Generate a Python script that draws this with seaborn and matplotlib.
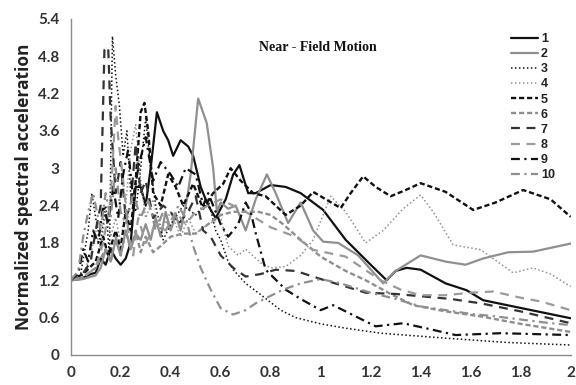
import matplotlib
matplotlib.use("Agg")
import matplotlib.pyplot as plt
import seaborn as sns

# Period (s) and normalized spectral acceleration for each near-field record
period_1 = [0, 0.04, 0.08, 0.1, 0.12, 0.14, 0.16, 0.18, 0.2, 0.22, 0.24, 0.26, 0.28, 0.3, 0.32, 0.345, 0.37, 0.39, 0.41, 0.44, 0.47, 0.49, 0.52, 0.55, 0.58, 0.62, 0.65, 0.675, 0.71, 0.74, 0.8, 0.86, 0.92, 0.96, 1.01, 1.1, 1.2, 1.264, 1.3, 1.344, 1.4, 1.5, 1.584, 1.65, 1.77, 2.0]
sa_1 = [1.2, 1.22, 1.3, 1.32, 1.55, 1.45, 1.7, 1.55, 1.45, 1.55, 1.8, 2.7, 2.7, 2.4, 3.0, 3.9, 3.6, 3.45, 3.2, 3.45, 3.35, 3.2, 2.7, 2.4, 2.2, 2.5, 2.9, 3.05, 2.6, 2.6, 2.73, 2.7, 2.6, 2.48, 2.33, 1.85, 1.45, 1.2, 1.35, 1.40, 1.37, 1.15, 1.04, 0.88, 0.78, 0.59]

period_2 = [0, 0.05, 0.1, 0.12, 0.14, 0.16, 0.18, 0.2, 0.22, 0.24, 0.26, 0.28, 0.3, 0.32, 0.34, 0.36, 0.38, 0.4, 0.42, 0.44, 0.465, 0.48, 0.51, 0.544, 0.57, 0.585, 0.6, 0.63, 0.66, 0.7, 0.74, 0.785, 0.82, 0.87, 0.92, 0.97, 1.01, 1.07, 1.15, 1.25, 1.3, 1.4, 1.5, 1.58, 1.65, 1.75, 1.85, 2.0]
sa_2 = [1.2, 1.22, 1.28, 1.4, 1.7, 1.5, 1.85, 1.6, 2.0, 1.7, 1.95, 1.85, 2.1, 1.85, 2.2, 1.9, 2.3, 2.0, 2.25, 2.0, 2.5, 2.9, 4.12, 3.73, 3.0, 2.3, 2.45, 2.35, 2.4, 2.0, 2.5, 2.9, 2.6, 2.12, 2.45, 2.0, 1.82, 1.8, 1.6, 1.15, 1.35, 1.6, 1.5, 1.45, 1.55, 1.65, 1.66, 1.79]

period_3 = [0, 0.04, 0.07, 0.085, 0.1, 0.12, 0.14, 0.155, 0.167, 0.18, 0.195, 0.21, 0.225, 0.24, 0.26, 0.28, 0.3, 0.32, 0.34, 0.37, 0.4, 0.45, 0.5, 0.55, 0.58, 0.6, 0.63, 0.65, 0.7, 0.75, 0.84, 0.9, 1.0, 1.1, 1.24, 1.5, 1.75, 2.0]
sa_3 = [1.2, 1.3, 2.0, 2.6, 2.2, 1.8, 2.4, 1.6, 5.12, 4.5, 4.0, 3.2, 3.6, 2.6, 2.3, 3.0, 3.8, 3.0, 2.4, 1.85, 2.1, 2.4, 2.25, 2.5, 2.0, 1.85, 1.5, 1.37, 1.15, 1.0, 0.72, 0.6, 0.5, 0.43, 0.35, 0.27, 0.2, 0.16]

period_4 = [0, 0.05, 0.08, 0.1, 0.12, 0.14, 0.16, 0.18, 0.2, 0.22, 0.24, 0.26, 0.28, 0.3, 0.33, 0.36, 0.4, 0.44, 0.47, 0.5, 0.55, 0.6, 0.63, 0.67, 0.7, 0.76, 0.8, 0.86, 0.92, 0.97, 1.04, 1.1, 1.18, 1.25, 1.33, 1.4, 1.45, 1.53, 1.64, 1.77, 1.85, 1.92, 2.0]
sa_4 = [1.2, 1.3, 1.6, 2.0, 1.7, 2.3, 1.9, 2.2, 1.8, 2.4, 3.3, 3.7, 2.8, 2.2, 2.5, 2.0, 2.3, 1.9, 2.2, 1.95, 2.1, 2.2, 1.75, 1.6, 1.7, 1.48, 1.4, 1.42, 1.6, 1.85, 2.55, 2.3, 1.8, 2.0, 2.35, 2.57, 2.3, 1.77, 1.69, 1.32, 1.40, 1.3, 1.1]

period_5 = [0, 0.05, 0.1, 0.13, 0.15, 0.18, 0.2, 0.22, 0.24, 0.26, 0.28, 0.295, 0.31, 0.33, 0.36, 0.39, 0.42, 0.45, 0.49, 0.53, 0.57, 0.61, 0.64, 0.68, 0.73, 0.78, 0.86, 0.92, 0.97, 1.0, 1.08, 1.12, 1.17, 1.22, 1.28, 1.34, 1.4, 1.5, 1.61, 1.7, 1.81, 1.92, 2.0]
sa_5 = [1.2, 1.3, 1.5, 1.9, 1.6, 2.0, 1.7, 2.3, 2.0, 2.8, 3.9, 4.05, 3.6, 2.6, 2.4, 2.9, 2.7, 2.4, 2.75, 2.35, 2.6, 2.75, 3.0, 2.8, 2.6, 2.55, 2.25, 2.4, 2.62, 2.55, 2.36, 2.6, 2.87, 2.7, 2.55, 2.65, 2.76, 2.62, 2.33, 2.45, 2.65, 2.5, 2.22]

period_6 = [0, 0.05, 0.1, 0.14, 0.16, 0.18, 0.2, 0.22, 0.24, 0.26, 0.28, 0.3, 0.33, 0.36, 0.4, 0.45, 0.5, 0.55, 0.6, 0.65, 0.7, 0.75, 0.8, 0.85, 0.92, 1.0, 1.1, 1.18, 1.28, 1.37, 1.5, 1.64, 1.8, 2.0]
sa_6 = [1.2, 1.25, 1.4, 1.7, 1.5, 1.9, 1.6, 2.0, 1.7, 2.0, 1.65, 1.9, 1.65, 1.75, 1.9, 1.95, 1.95, 2.1, 2.25, 2.3, 2.3, 2.3, 2.25, 2.1, 1.85, 1.58, 1.35, 1.2, 0.98, 0.8, 0.7, 0.62, 0.5, 0.37]

period_7 = [0, 0.04, 0.08, 0.1, 0.12, 0.135, 0.15, 0.16, 0.18, 0.2, 0.22, 0.24, 0.26, 0.28, 0.3, 0.33, 0.37, 0.4, 0.43, 0.47, 0.5, 0.53, 0.56, 0.6, 0.65, 0.7, 0.76, 0.82, 0.9, 1.0, 1.1, 1.18, 1.3, 1.41, 1.52, 1.64, 1.8, 2.0]
sa_7 = [1.2, 1.25, 1.5, 2.0, 2.4, 4.9, 4.95, 3.8, 2.6, 3.1, 2.2, 2.4, 3.4, 2.6, 2.8, 2.2, 2.4, 2.3, 2.1, 2.3, 2.55, 2.0, 1.9, 1.6, 1.4, 1.26, 1.3, 1.37, 1.35, 1.22, 1.1, 1.0, 0.98, 0.94, 0.9, 0.83, 0.7, 0.51]

period_8 = [0, 0.05, 0.1, 0.13, 0.16, 0.18, 0.19, 0.21, 0.23, 0.25, 0.27, 0.3, 0.34, 0.38, 0.42, 0.46, 0.5, 0.55, 0.6, 0.65, 0.7, 0.8, 0.9, 0.97, 1.1, 1.24, 1.32, 1.4, 1.5, 1.6, 1.69, 1.8, 1.88, 2.0]
sa_8 = [1.2, 1.25, 1.4, 1.8, 2.5, 4.0, 3.5, 2.8, 2.0, 1.6, 2.2, 1.8, 2.1, 2.0, 2.3, 2.1, 2.3, 2.4, 2.5, 2.4, 2.3, 2.05, 1.9, 1.69, 1.58, 1.2, 1.05, 0.96, 0.96, 1.0, 1.02, 0.92, 0.86, 0.72]

period_9 = [0, 0.03, 0.05, 0.07, 0.09, 0.11, 0.13, 0.15, 0.17, 0.19, 0.21, 0.23, 0.25, 0.27, 0.3, 0.33, 0.36, 0.4, 0.43, 0.46, 0.5, 0.53, 0.55, 0.6, 0.63, 0.67, 0.7, 0.72, 0.74, 0.78, 0.86, 0.92, 1.0, 1.05, 1.14, 1.22, 1.33, 1.42, 1.54, 1.72, 2.0]
sa_9 = [1.2, 1.3, 1.7, 1.5, 2.0, 1.8, 2.4, 2.1, 2.7, 2.2, 2.9, 3.3, 2.5, 3.0, 3.5, 2.8, 3.1, 2.9, 2.7, 3.0, 2.9, 2.4, 2.6, 2.1, 1.9, 2.1, 2.45, 2.3, 1.96, 1.37, 1.05, 0.9, 0.72, 0.8, 0.62, 0.46, 0.51, 0.43, 0.32, 0.35, 0.32]

period_10 = [0, 0.03, 0.05, 0.07, 0.09, 0.1, 0.12, 0.14, 0.16, 0.18, 0.2, 0.22, 0.25, 0.28, 0.31, 0.34, 0.37, 0.4, 0.43, 0.46, 0.49, 0.52, 0.56, 0.6, 0.65, 0.7, 0.74, 0.8, 0.85, 0.92, 1.0, 1.08, 1.2, 1.3, 1.4, 1.5, 1.6, 1.7, 1.8, 1.9, 2.0]
sa_10 = [1.2, 1.35, 1.9, 2.3, 2.6, 2.4, 2.0, 2.6, 2.2, 3.0, 2.3, 2.1, 2.6, 2.2, 2.5, 2.0, 2.3, 2.0, 2.4, 2.2, 1.75, 1.4, 1.05, 0.75, 0.65, 0.72, 0.83, 0.95, 1.05, 1.15, 1.22, 1.15, 1.0, 0.9, 0.78, 0.72, 0.66, 0.62, 0.57, 0.52, 0.48]

record_labels = ["1", "2", "3", "4", "5", "6", "7", "8", "9", "10"]
periods = [period_1, period_2, period_3, period_4, period_5,
           period_6, period_7, period_8, period_9, period_10]
spectra = [sa_1, sa_2, sa_3, sa_4, sa_5, sa_6, sa_7, sa_8, sa_9, sa_10]

BLACK = "#111111"
GREY = "#8f8f8f"
styles = [
    dict(color=BLACK, lw=1.6, linestyle="-"),
    dict(color=GREY, lw=1.6, linestyle="-"),
    dict(color=BLACK, lw=1.1, linestyle=(0, (1, 1.6))),
    dict(color=GREY, lw=1.1, linestyle=(0, (1, 1.6))),
    dict(color=BLACK, lw=1.7, linestyle=(0, (2.2, 1.2))),
    dict(color=GREY, lw=1.7, linestyle=(0, (2.2, 1.2))),
    dict(color="#333333", lw=1.6, linestyle=(0, (4, 3))),
    dict(color="#9a9a9a", lw=1.6, linestyle=(0, (4, 3))),
    dict(color=BLACK, lw=1.6, linestyle=(0, (4, 2, 1, 2))),
    dict(color=GREY, lw=1.6, linestyle=(0, (4, 2, 1, 2))),
]

sns.set_style("white")
fig = plt.figure(figsize=(5.76, 3.85), dpi=100)
ax = fig.add_axes([0.1227, 0.078, 0.868, 0.873])

for lab, xs, ys, st in zip(record_labels, periods, spectra, styles):
    sns.lineplot(x=xs, y=ys, ax=ax, label=lab, estimator=None, sort=False, **st)

ax.set_xlim(0, 2)
ax.set_ylim(0, 5.4)
ax.set_xticks([0, 0.2, 0.4, 0.6, 0.8, 1, 1.2, 1.4, 1.6, 1.8, 2])
ax.set_xticklabels(["0", "0.2", "0.4", "0.6", "0.8", "1", "1.2", "1.4", "1.6", "1.8", "2"])
ax.set_yticks([0, 0.6, 1.2, 1.8, 2.4, 3, 3.6, 4.2, 4.8, 5.4])
ax.set_yticklabels(["0", "0.6", "1.2", "1.8", "2.4", "3", "3.6", "4.2", "4.8", "5.4"])

for side in ["top", "right"]:
    ax.spines[side].set_visible(False)
for side in ["left", "bottom"]:
    ax.spines[side].set_color("#8a8a8a")
    ax.spines[side].set_linewidth(1.0)
ax.tick_params(axis="both", direction="inout", length=8, width=1.0,
               color="#8a8a8a", labelcolor="#333333", labelsize=11, pad=4)
for t in ax.get_xticklabels() + ax.get_yticklabels():
    t.set_fontfamily("Lato")
    t.set_fontweight("bold")

ax.set_ylabel("Normalized spectral acceleration", fontsize=12.5,
              fontweight="bold", fontfamily="Open Sans", color="#222222", labelpad=4)
ax.set_xlabel("")

ax.text(0.495, 0.915, "Near - Field Motion", transform=ax.transAxes,
        ha="center", va="center", fontsize=10, fontweight="bold",
        fontfamily="Liberation Serif", color="#111111")

leg = ax.legend(loc="upper left", bbox_to_anchor=(0.888, 0.914),
                bbox_transform=fig.transFigure, frameon=False,
                handlelength=2.15, handletextpad=0.2, labelspacing=0.25,
                borderaxespad=0, borderpad=0,
                prop=dict(family="Liberation Sans", weight="bold", size=9))
for t in leg.get_texts():
    t.set_color("#222222")

fig.savefig("out.png", dpi=100)
